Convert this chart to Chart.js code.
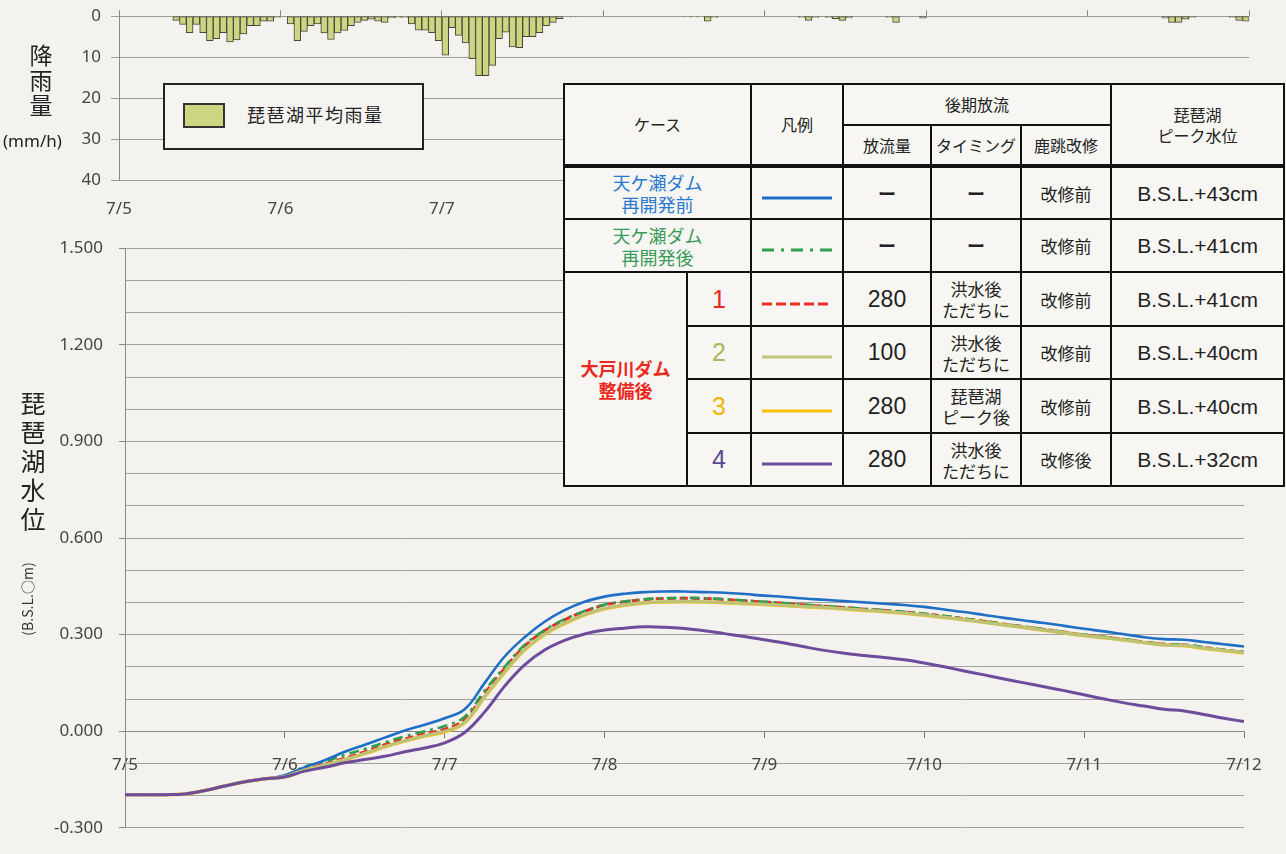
<!DOCTYPE html>
<html><head><meta charset="utf-8">
<script src="https://cdn.jsdelivr.net/npm/chart.js@4.4.1/dist/chart.umd.min.js"></script>
<style>
html,body{margin:0;padding:0;background:#f3f2ee;width:1286px;height:854px;overflow:hidden;font-family:"Noto Sans CJK JP","Noto Sans",sans-serif;color:#222}
canvas{position:absolute;left:0}
.abs{position:absolute}
#rainLegend{left:163px;top:83px;width:257px;height:63px;border:2px solid #222;background:#f5f4f0}
#rainLegend .sw{position:absolute;left:18px;top:18px;width:38px;height:21px;background:#cdd583;border:2px solid #333}
#rainLegend .tx{position:absolute;left:82px;top:17px;font-size:18px;line-height:24px;letter-spacing:1.5px;color:#222}
.stack{font-size:23px;line-height:25px;text-align:center;width:30px;color:#222}
table{position:absolute;left:563px;top:83px;width:720px;border-collapse:collapse;table-layout:fixed;background:#f7f6f3}
td{border:2px solid #111;text-align:center;vertical-align:middle;padding:0;font-size:17px;line-height:21px;color:#222}
.hd td{font-size:16px}
.num{font-family:"Liberation Sans",Arial,sans-serif;font-size:23px}
.bsl{font-family:"Liberation Sans",Arial,sans-serif;font-size:21px}
.big{font-family:"Liberation Sans",Arial,sans-serif;font-size:25px}
.cs{font-size:18px;line-height:22px}
.dash{font-size:18px;font-weight:bold}
</style></head>
<body>
<canvas id="rain" width="1286" height="226" style="top:-4px"></canvas>
<canvas id="level" width="1286" height="632" style="top:222px"></canvas>

<div class="abs stack" style="left:26px;top:42px">降<br>雨<br>量</div>
<div class="abs" style="left:3px;top:130px;font-size:17px;line-height:22px;font-family:'Noto Sans',sans-serif">(mm/h)</div>
<div class="abs stack" style="left:18px;top:388px;font-size:25px;line-height:29px">琵<br>琶<br>湖<br>水<br>位</div>
<div class="abs" style="left:-28px;top:590px;width:110px;text-align:center;font-size:14px;line-height:18px;transform:rotate(-90deg);font-family:'Noto Sans CJK JP',sans-serif;color:#333;white-space:nowrap">(B.S.L.○m)</div>

<div id="rainLegend" class="abs"><div class="sw"></div><div class="tx">琵琶湖平均雨量</div></div>

<table>
<colgroup><col style="width:123px"><col style="width:64px"><col style="width:92px"><col style="width:88px"><col style="width:90px"><col style="width:90px"><col style="width:173px"></colgroup>
<tr class="hd" style="height:41px"><td colspan="2" rowspan="2">ケース</td><td rowspan="2">凡例</td><td colspan="3">後期放流</td><td rowspan="2">琵琶湖<br>ピーク水位</td></tr>
<tr class="hd" style="height:41px;border-bottom:4px solid #111"><td>放流量</td><td>タイミング</td><td>鹿跳改修</td></tr>
<tr style="height:53px"><td colspan="2" class="cs" style="color:#2a78cf">天ケ瀬ダム<br>再開発前</td><td><svg width="70" height="6"><line x1="0" y1="3" x2="70" y2="3" stroke="#1f6fc6" stroke-width="3"/></svg></td><td class="dash">ー</td><td class="dash">ー</td><td>改修前</td><td class="bsl">B.S.L.+43cm</td></tr>
<tr style="height:53px"><td colspan="2" class="cs" style="color:#3a9a5a">天ケ瀬ダム<br>再開発後</td><td><svg width="70" height="6"><line x1="0" y1="3" x2="70" y2="3" stroke="#2f9e4f" stroke-width="3" stroke-dasharray="12 7 3 7"/></svg></td><td class="dash">ー</td><td class="dash">ー</td><td>改修前</td><td class="bsl">B.S.L.+41cm</td></tr>
<tr style="height:54px"><td rowspan="4" class="cs" style="color:#ea2a20;font-weight:bold">大戸川ダム<br>整備後</td><td class="big" style="color:#ea2a20">1</td><td><svg width="70" height="6"><line x1="0" y1="3" x2="70" y2="3" stroke="#ee2a22" stroke-width="3" stroke-dasharray="10 4"/></svg></td><td class="num">280</td><td>洪水後<br>ただちに</td><td>改修前</td><td class="bsl">B.S.L.+41cm</td></tr>
<tr style="height:53px"><td class="big" style="color:#a9b85e">2</td><td><svg width="70" height="6"><line x1="0" y1="3" x2="70" y2="3" stroke="#c2c67a" stroke-width="3"/></svg></td><td class="num">100</td><td>洪水後<br>ただちに</td><td>改修前</td><td class="bsl">B.S.L.+40cm</td></tr>
<tr style="height:54px"><td class="big" style="color:#f2b400">3</td><td><svg width="70" height="6"><line x1="0" y1="3" x2="70" y2="3" stroke="#f6c20c" stroke-width="3"/></svg></td><td class="num">280</td><td>琵琶湖<br>ピーク後</td><td>改修前</td><td class="bsl">B.S.L.+40cm</td></tr>
<tr style="height:53px"><td class="big" style="color:#5b4a92">4</td><td><svg width="70" height="6"><line x1="0" y1="3" x2="70" y2="3" stroke="#6f4c9b" stroke-width="3"/></svg></td><td class="num">280</td><td>洪水後<br>ただちに</td><td>改修後</td><td class="bsl">B.S.L.+32cm</td></tr>
</table>

<script>
// ---- data ----
const dayLabels = ['7/5','7/6','7/7','7/8','7/9','7/10','7/11','7/12'];

// hourly rainfall (mm/h), 7/5 0:00 .. 7/11 23:00
const rainfall = [
 0,0,0,0,0,0,0,0,1.0,2.0,4.0,2.0,4.0,6.0,5.5,4.0,6.3,5.8,4.3,2.3,2.3,1.2,1.2,0.3,
 0,1.9,6.0,3.7,2.3,1.9,4.1,5.7,4.1,3.5,2.3,1.5,1.0,0.7,1.2,1.5,0.4,0.3,0.3,1.9,3.4,3.4,4.0,6.0,
 9.5,2.8,4.7,6.5,10.4,14.5,14.5,12.0,5.5,3.9,7.5,7.7,5.0,5.0,4.0,2.3,1.5,0.6,0,0.2,0,0,0,0,
 0,0,0,0,0,0,0,0,0,0,0,0,0.2,0.2,0.2,1.2,0.3,0,0,0,0,0,0,0,
 0,0,0,0,0,0.3,1.0,0.3,0,0.3,0.6,1.0,0.4,0,0,0,0,0,0.3,1.5,0,0,0,0.5,
 0,0,0,0,0,0,0,0,0,0,0,0,0,0,0,0,0,0,0,0,0,0,0,0,
 0,0,0,0,0,0,0,0,0,0,0,0.5,1.5,1.5,0.7,0.3,0,0,0,0,0,0.3,1.0,1.2
];

// elapsed hours from 7/5 0:00 for the water level readings
const levelHours = [0,3,6,9,12,15,18,21,24,27,30,33,36,39,42,45,48,51,54,57,60,63,66,69,72,75,78,81,84,87,90,93,96,99,102,105,108,111,114,117,120,123,126,129,132,135,138,141,144,147,150,153,156,159,162,165,168];

// Lake Biwa water level (B.S.L. m)
const amagaseBefore = [-0.197,-0.197,-0.197,-0.195,-0.184,-0.170,-0.157,-0.148,-0.137,-0.112,-0.090,-0.064,-0.042,-0.020,0.002,0.020,0.040,0.068,0.150,0.232,0.292,0.340,0.376,0.402,0.418,0.427,0.432,0.434,0.434,0.432,0.430,0.426,0.421,0.417,0.412,0.408,0.404,0.400,0.396,0.392,0.386,0.378,0.370,0.361,0.352,0.344,0.336,0.327,0.318,0.310,0.301,0.292,0.286,0.284,0.277,0.270,0.263];
const amagaseAfter = [-0.197,-0.197,-0.197,-0.195,-0.184,-0.170,-0.157,-0.148,-0.138,-0.110,-0.094,-0.074,-0.055,-0.035,-0.016,0.000,0.016,0.045,0.126,0.200,0.268,0.314,0.348,0.373,0.393,0.403,0.410,0.413,0.414,0.413,0.410,0.406,0.402,0.398,0.393,0.389,0.385,0.380,0.376,0.371,0.365,0.358,0.350,0.342,0.333,0.325,0.317,0.308,0.300,0.293,0.286,0.278,0.271,0.269,0.261,0.253,0.246];
const case1 = [-0.197,-0.197,-0.197,-0.195,-0.184,-0.170,-0.157,-0.148,-0.140,-0.118,-0.102,-0.084,-0.064,-0.042,-0.024,-0.008,0.006,0.036,0.118,0.195,0.264,0.312,0.346,0.372,0.392,0.402,0.409,0.412,0.413,0.412,0.409,0.405,0.401,0.397,0.392,0.388,0.384,0.379,0.375,0.370,0.364,0.357,0.349,0.341,0.332,0.324,0.316,0.307,0.299,0.292,0.285,0.277,0.270,0.268,0.260,0.252,0.245];
const case2 = [-0.197,-0.197,-0.197,-0.195,-0.184,-0.170,-0.157,-0.148,-0.141,-0.120,-0.105,-0.088,-0.069,-0.048,-0.030,-0.014,0.000,0.028,0.108,0.185,0.254,0.302,0.336,0.362,0.381,0.392,0.399,0.402,0.403,0.402,0.400,0.397,0.394,0.391,0.387,0.384,0.380,0.376,0.372,0.367,0.361,0.354,0.346,0.338,0.330,0.322,0.314,0.305,0.297,0.290,0.283,0.275,0.268,0.266,0.258,0.251,0.244];
const case3 = [-0.197,-0.197,-0.197,-0.195,-0.184,-0.170,-0.157,-0.148,-0.142,-0.121,-0.106,-0.089,-0.070,-0.049,-0.031,-0.015,-0.002,0.026,0.106,0.183,0.252,0.300,0.334,0.361,0.380,0.391,0.398,0.401,0.402,0.401,0.399,0.396,0.393,0.390,0.386,0.383,0.379,0.375,0.371,0.366,0.360,0.353,0.346,0.338,0.330,0.322,0.313,0.305,0.297,0.290,0.283,0.275,0.268,0.265,0.257,0.250,0.243];
const case4 = [-0.197,-0.197,-0.197,-0.195,-0.184,-0.170,-0.157,-0.148,-0.142,-0.124,-0.112,-0.098,-0.088,-0.078,-0.064,-0.052,-0.036,-0.004,0.060,0.140,0.206,0.252,0.282,0.302,0.314,0.320,0.324,0.323,0.319,0.312,0.303,0.294,0.284,0.274,0.262,0.251,0.242,0.235,0.229,0.222,0.212,0.200,0.187,0.175,0.162,0.150,0.138,0.126,0.113,0.100,0.088,0.078,0.068,0.063,0.052,0.040,0.030];

// ---- charts ----
const FONT = '"Noto Sans", "Open Sans", sans-serif';
const pts = arr => arr.map((v,i)=>({x: levelHours[i], y: v}));

new Chart(document.getElementById('rain'), {
  type: 'bar',
  data: { datasets: [{
    label: '琵琶湖平均雨量',
    data: rainfall.map((v,i)=>({x: i+0.5, y: v ? v : null})),
    backgroundColor: '#cdd583', borderColor: '#45463a', borderWidth: 1,
    barPercentage: 1, categoryPercentage: 1, borderSkipped: false
  }]},
  options: {
    responsive: false, animation: false,
    layout: { padding: { top: 0, right: 28, left: 0, bottom: 0 } },
    plugins: { legend: { display: false }, tooltip: { enabled: false } },
    scales: {
      x: { type: 'linear', min: 0, max: 168, position: 'bottom', offset: false,
           afterFit: s => { s.height = 42; },
           grid: { display: false, drawTicks: false, offset: false }, border: { display: false },
           ticks: { stepSize: 24, autoSkip: false, maxRotation: 0, padding: 19,
                    color: '#444', font: { size: 17, family: FONT },
                    callback: v => dayLabels[Math.round(v/24)] } },
      xTop: { type: 'linear', min: 0, max: 168, position: 'top', offset: false,
           afterFit: s => { s.height = 10; },
           grid: { drawOnChartArea: false, drawTicks: true, tickLength: 6, color: '#888', offset: false },
           border: { display: false },
           ticks: { display: false, stepSize: 24, autoSkip: false } },
      y: { min: 0, max: 40, reverse: true,
           afterFit: s => { s.width = 119; },
           grid: { color: '#9a9a9a', tickLength: 8 }, border: { color: '#888' },
           ticks: { stepSize: 10, padding: 10, color: '#444', font: { size: 17, family: FONT } } }
    }
  }
});

const lineDs = (label, arr, color, extra) => Object.assign({
  type: 'line', label, data: pts(arr), borderColor: color, backgroundColor: color,
  borderWidth: 2.6, pointRadius: 0, tension: 0.4, fill: false
}, extra || {});

new Chart(document.getElementById('level'), {
  type: 'line',
  data: { datasets: [
    lineDs('ケース4', case4, '#6f4c9b', { borderWidth: 3 }),
    lineDs('ケース2', case2, '#bcc27a', { borderWidth: 3 }),
    lineDs('ケース3', case3, '#f6c20c', { borderWidth: 3.4 }),
    lineDs('天ケ瀬ダム再開発前', amagaseBefore, '#1f6fc6'),
    lineDs('天ケ瀬ダム再開発後', amagaseAfter, '#2f9e4f', { borderDash: [10,5,3,5] }),
    lineDs('ケース1', case1, '#ee2a22', { borderDash: [8,4], borderWidth: 3 })
  ]},
  options: {
    responsive: false, animation: false,
    layout: { padding: { top: 10, right: 42, left: 0, bottom: 14 } },
    plugins: { legend: { display: false }, tooltip: { enabled: false } },
    scales: {
      x: { type: 'linear', min: 0, max: 168, position: { y: 0 },
           grid: { drawOnChartArea: false, drawTicks: true, tickLength: 6, color: '#777' },
           border: { display: true, color: '#888' },
           ticks: { stepSize: 24, autoSkip: false, maxRotation: 0, padding: 18,
                    color: '#444', font: { size: 17, family: FONT },
                    callback: v => dayLabels[Math.round(v/24)] } },
      y: { min: -0.3, max: 1.5,
           afterFit: s => { s.width = 125; },
           grid: { color: '#a0a0a0', tickLength: 6,
                   tickColor: c => (Math.round(c.tick.value*10) % 3 === 0 ? '#888' : 'rgba(0,0,0,0)') },
           border: { color: '#888' },
           ticks: { stepSize: 0.1, autoSkip: false, padding: 16, color: '#444',
                    font: { size: 17, family: FONT },
                    callback: v => (Math.round(v*10) % 3 === 0 ? v.toFixed(3) : '') } }
    }
  }
});
</script>
</body></html>
